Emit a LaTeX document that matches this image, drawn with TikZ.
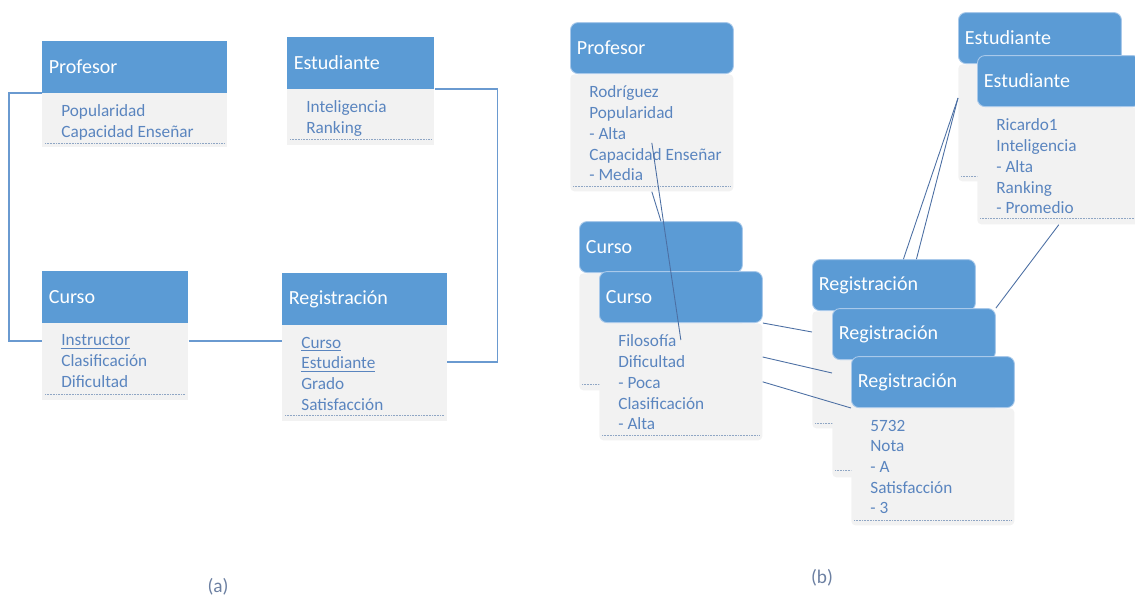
\documentclass[tikz,border=0pt]{standalone}
\usepackage{fontspec}
\setmainfont{Carlito}
\usepackage{tikz}
\usetikzlibrary{positioning}
\definecolor{hblue}{HTML}{5B9BD5}
\definecolor{hedge}{HTML}{A9C9EA}
\definecolor{bgray}{HTML}{F2F2F2}
\definecolor{btext}{HTML}{5A85BF}
\definecolor{dotc}{HTML}{8FA6C4}
\definecolor{linka}{HTML}{6A9AD0}
\definecolor{linkb}{HTML}{4C6FA3}
\definecolor{capc}{HTML}{6C80A2}

\begin{document}
\begin{tikzpicture}[x=0.02cm, y=-0.02cm, inner sep=1mm,
  hdr/.style={rectangle, fill=hblue, text=white, font=\fontsize{11.4}{13}\selectfont, align=left, inner xsep=1.3mm, inner ysep=0pt, minimum height=1.03cm},
  hdrb/.style={hdr, rounded corners=1.5mm, draw=hedge, line width=0.5pt, text width=3.0cm, minimum height=1.02cm},
  cls/.style={rectangle, anchor=north west, fill=bgray, inner sep=0pt},
  clsb/.style={cls, rounded corners=0.8mm, minimum width=3.26cm, minimum height=2.34cm},
  attr/.style={inner sep=0pt, align=left, text=btext, font=\fontsize{9.8}{11.8}\selectfont},
  dots/.style={dotc, line width=0.5pt, dash pattern=on 0.4pt off 0.5pt},
  link/.style={linka, line width=0.6pt},
  rel/.style={linkb, line width=0.5pt},
  subcap/.style={text=capc, font=\fontsize{11}{13}\selectfont}]
\clip (0,0) rectangle (1135,595);

\node (profB) at (42,93) [cls, minimum width=3.70cm, minimum height=1.08cm] {};
\node (profH) [hdr, text width=3.44cm, above right=0pt and 0pt of profB.north west] {Profesor};
\node (profT) [attr, below right=2.3mm and 3.8mm of profB.north west] {Popularidad\\Capacidad Enseñar};
\draw[dots] ([shift={(0.6mm,0.8mm)}]profB.south west) -- ([shift={(-0.6mm,0.8mm)}]profB.south east);

\node (estB) at (287,89) [cls, minimum width=2.94cm, minimum height=1.12cm] {};
\node (estH) [hdr, text width=2.68cm, above right=0pt and 0pt of estB.north west] {Estudiante};
\node (estT) [attr, below right=2.3mm and 3.8mm of estB.north west] {Inteligencia\\Ranking};
\draw[dots] ([shift={(0.6mm,1.2mm)}]estB.south west) -- ([shift={(-0.6mm,1.2mm)}]estB.south east);

\node (cursB) at (42,323) [cls, minimum width=2.92cm, minimum height=1.54cm] {};
\node (cursH) [hdr, text width=2.66cm, above right=0pt and 0pt of cursB.north west] {Curso};
\node (cursT) [attr, below right=2.3mm and 3.8mm of cursB.north west] {\underline{Instructor}\\Clasificación\\Dificultad};
\draw[dots] ([shift={(0.6mm,1.2mm)}]cursB.south west) -- ([shift={(-0.6mm,1.2mm)}]cursB.south east);

\node (regB) at (282,325) [cls, minimum width=3.30cm, minimum height=1.92cm] {};
\node (regH) [hdr, text width=3.04cm, above right=0pt and 0pt of regB.north west] {Registración};
\node (regT) [attr, below right=2.3mm and 3.8mm of regB.north west] {\underline{Curso}\\\underline{Estudiante}\\Grado\\Satisfacción};
\draw[dots] ([shift={(0.6mm,1.2mm)}]regB.south west) -- ([shift={(-0.6mm,1.2mm)}]regB.south east);

\coordinate (instr) at (42,341);
\coordinate (stud) at (447,362);
\draw[link] (profH.south west) -- ++(-33,0) |- (instr);
\draw[link] (cursB.east |- instr) -- (regB.west |- instr);
\draw[link] (estH.south east) -- ++(63,0) |- (stud);

\node (profBb) at (570,74) [clsb] {};
\node (profHb) [hdrb, above right=0pt and 0pt of profBb.north west] {Profesor};
\node (profTb) [attr, below right=2.3mm and 3.8mm of profBb.north west] {Rodríguez\\Popularidad\\- Alta\\Capacidad Enseñar\\- Media};
\draw[dots] ([shift={(0.6mm,1mm)}]profBb.south west) -- ([shift={(-0.6mm,1mm)}]profBb.south east);

\node (cBb) at (579,273) [clsb] {};
\node (cHb) [hdrb, above right=0pt and 0pt of cBb.north west] {Curso};
\draw[dots] ([shift={(0.6mm,1.2mm)}]cBb.south west) -- ([shift={(-0.6mm,1.2mm)}]cBb.south east);

\node (cBf) at (599,323) [clsb] {};
\node (cHf) [hdrb, above right=0pt and 0pt of cBf.north west] {Curso};
\node (cTf) [attr, below right=2.3mm and 3.8mm of cBf.north west] {Filosofía\\Dificultad\\- Poca\\Clasificación\\- Alta};
\draw[dots] ([shift={(0.6mm,1mm)}]cBf.south west) -- ([shift={(-0.6mm,1mm)}]cBf.south east);

\node (rBa) at (812,311) [clsb] {};
\node (rHa) [hdrb, above right=0pt and 0pt of rBa.north west] {Registración};
\draw[dots] ([shift={(0.6mm,1mm)}]rBa.south west) -- ([shift={(-0.6mm,1mm)}]rBa.south east);

\node (rBb) at (832,360) [clsb] {};
\node (rHb) [hdrb, above right=0pt and 0pt of rBb.north west] {Registración};
\draw[dots] ([shift={(0.6mm,1.4mm)}]rBb.south west) -- ([shift={(-0.6mm,1.4mm)}]rBb.south east);

\node (rBc) at (851,408) [clsb] {};
\node (rHc) [hdrb, above right=0pt and 0pt of rBc.north west] {Registración};
\node (rTc) [attr, below right=2.3mm and 3.8mm of rBc.north west] {5732\\Nota\\- A\\Satisfacción\\- 3};
\draw[dots] ([shift={(0.6mm,1mm)}]rBc.south west) -- ([shift={(-0.6mm,1mm)}]rBc.south east);

\node (eBa) at (958,64) [clsb] {};
\node (eHa) [hdrb, above right=0pt and 0pt of eBa.north west] {Estudiante};
\draw[dots] ([shift={(0.6mm,1mm)}]eBa.south west) -- ([shift={(-0.6mm,1mm)}]eBa.south east);

\node (eBb) at (977,107) [clsb] {};
\node (eHb) [hdrb, above right=0pt and 0pt of eBb.north west] {Estudiante};
\node (eTb) [attr, below right=2.3mm and 3.8mm of eBb.north west] {Ricardo1\\Inteligencia\\- Alta\\Ranking\\- Promedio};
\draw[dots] ([shift={(0.6mm,1.2mm)}]eBb.south west) -- ([shift={(-0.6mm,1.2mm)}]eBb.south east);

\draw[rel] ([yshift=-2mm]profBb.center) -- ([yshift=-3.4mm]cBf.north);
\draw[rel] (profBb.south) -- (cHb.north);
\draw[rel] (cHf.south east) -- ([yshift=-4.2mm]rBa.north west);
\draw[rel] ([yshift=-6.8mm]cBf.north east) -- ([yshift=-2.6mm]rBb.north west);
\draw[rel] (cBf.east) -- (rHc.south west);
\draw[rel] ([yshift=-6.8mm]eBa.north west) -- ([xshift=1.9mm]rHa.north);
\draw[rel] ([yshift=-6.8mm]eBa.north west) -- ([xshift=4.5mm]rHa.north);
\draw[rel] (eBb.south) -- (rHb.north east);

\node (capa) at (218,587) [subcap] {(a)};
\node (capb) at (822,578) [subcap] {(b)};
\end{tikzpicture}
\end{document}
